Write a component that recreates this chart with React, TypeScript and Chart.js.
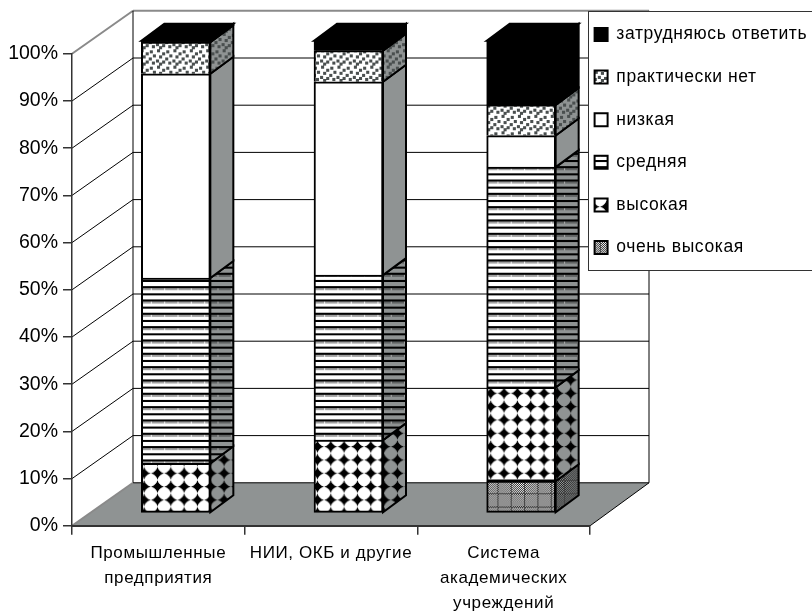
import React, { useEffect, useRef } from "react";
import { Chart, registerables } from "chart.js";

Chart.register(...registerables);

const categories = [["Промышленные", "предприятия"], ["НИИ, ОКБ и другие"], ["Система", "академических", "учреждений"]];
const veryHigh = [0, 0, 6.6];
const high = [10.4, 15.3, 19.9];
const medium = [39.3, 35, 46.7];
const low = [43.3, 41, 6.7];
const almostNone = [6.7, 6.6, 6.5];
const hardToSay = [0.3, 2.1, 13.6];
const yTicks = [0, 10, 20, 30, 40, 50, 60, 70, 80, 90, 100];

const FLOOR = "#8f9393";
const FONT = "'Liberation Sans', Arial, sans-serif";

function tile(w: number, h: number, paint: (c: CanvasRenderingContext2D) => void) {
  const cv = document.createElement("canvas");
  cv.width = w;
  cv.height = h;
  const c = cv.getContext("2d")!;
  paint(c);
  const p = c.createPattern(cv, "repeat")!;
  p.setTransform(new DOMMatrix().scale(13.33 / 13));
  return p;
}

function makePatterns(bg: string, band: string, line: string) {
  const diamonds = tile(13, 13, (c) => {
    c.fillStyle = bg;
    c.fillRect(0, 0, 13, 13);
    c.fillStyle = "#000";
    c.beginPath();
    c.moveTo(0.2, 6.5);
    c.quadraticCurveTo(5.2, 5.2, 6.5, 0.2);
    c.quadraticCurveTo(7.8, 5.2, 12.8, 6.5);
    c.quadraticCurveTo(7.8, 7.8, 6.5, 12.8);
    c.quadraticCurveTo(5.2, 7.8, 0.2, 6.5);
    c.closePath();
    c.fill();
    c.beginPath();
    c.moveTo(2.3, 6.5);
    c.lineTo(6.5, 2.3);
    c.lineTo(10.7, 6.5);
    c.lineTo(6.5, 10.7);
    c.closePath();
    c.fill();
  });
  const stripes = tile(13, 13, (c) => {
    c.fillStyle = bg;
    c.fillRect(0, 0, 13, 13);
    c.fillStyle = band;
    c.fillRect(0, 8, 13, 2);
    c.fillStyle = line;
    c.fillRect(0, 8, 1, 2);
    c.fillStyle = "#000";
    c.fillRect(0, 0, 13, 2);
    c.fillRect(0, 6, 13, 2);
  });
  const confetti = tile(16, 16, (c) => {
    c.fillStyle = bg;
    c.fillRect(0, 0, 16, 16);
    c.fillStyle = "#4a4f4f";
    for (const [x, y] of [[1, 1], [8, 0], [13, 3], [4, 5], [10, 6], [0, 8], [7, 10], [13, 11], [3, 12], [10, 13]]) {
      c.fillRect(x, y, 3, 3);
    }
  });
  const fine = tile(13, 13, (c) => {
    c.fillStyle = bg;
    c.fillRect(0, 0, 13, 13);
    c.fillStyle = "#222";
    for (let y = 0; y < 13; y++) for (let x = 0; x < 13; x++) if ((x + y) % 2 === 0) c.fillRect(x, y, 1, 1);
    c.fillStyle = "#444";
    c.fillRect(0, 0, 1, 13);
    c.fillRect(0, 0, 13, 1);
  });
  return { diamonds, stripes, confetti, fine };
}

const SHIFT = 17.5;
const DX = 23;
const DY = 17;

export default function App() {
  const ref = useRef<HTMLCanvasElement>(null);
  useEffect(() => {
    document.body.style.margin = "0";
    const front = makePatterns("#fff", "#a0a0a0", "#eee");
    const side = makePatterns(FLOOR, "#5f6262", "#aaa");

    const seriesNames = ["очень высокая", "высокая", "средняя", "низкая", "практически нет", "затрудняюсь ответить"];
    const seriesValues = [veryHigh, high, medium, low, almostNone, hardToSay];
    const frontFill: any[] = [front.fine, front.diamonds, front.stripes, "#fff", front.confetti, "#000"];
    const sideFill: any[] = [side.fine, side.diamonds, side.stripes, FLOOR, side.confetti, "#000"];

    const spaced = (obj: any, method: string, ctx: any, spacing: string) => {
      if (obj["__" + method]) return;
      const orig = obj[method];
      obj["__" + method] = true;
      obj[method] = function (...args: any[]) {
        ctx.letterSpacing = spacing;
        orig.apply(this, args);
        ctx.letterSpacing = "0px";
      };
    };

    const scene = {
      id: "scene",
      beforeLayout(chart: any) {
        const l = chart.legend;
        if (!l.__fit) {
          l.__fit = true;
          const fit = l.fit;
          l.fit = function () {
            fit.call(this);
            this.width = 222;
          };
        }
      },
      afterLayout(chart: any) {
        const l = chart.legend;
        l.left = 569.5;
        l.top = 0.65;
        l.right = 900;
        l.bottom = 600;
        spaced(l, "draw", chart.ctx, "0.6px");
        spaced(chart.scales.x, "drawLabels", chart.ctx, "0.6px");
      },
      beforeDraw(chart: any) {
        const c = chart.ctx;
        const y = chart.scales.y;
        const x0 = chart.chartArea.left;
        const x1 = chart.chartArea.right;
        const w = 61;
        const d = 43;
        const y0 = y.getPixelForValue(0);
        const y100 = y.getPixelForValue(100);
        c.save();
        c.fillStyle = "#fff";
        c.fillRect(0, 0, 812, 611);
        c.fillStyle = FLOOR;
        c.beginPath();
        c.moveTo(x0, y0);
        c.lineTo(x0 + w, y0 - d);
        c.lineTo(x1 + w - 2, y0 - d);
        c.lineTo(x1, y0);
        c.closePath();
        c.fill();
        c.lineWidth = 1;
        c.strokeStyle = "#000";
        for (const v of yTicks) {
          const p = y.getPixelForValue(v);
          c.strokeStyle = v === 100 ? "#8a8a8a" : "#000";
          if (v === 100) c.lineWidth = 2;
          c.beginPath();
          if (v !== 0) {
            c.moveTo(x0, p);
            c.lineTo(x0 + w, p - d);
          }
          c.moveTo(x0 + w, p - d);
          c.lineTo(x1 + w - 2, p - d);
          c.stroke();
          c.lineWidth = 1;
        }
        c.strokeStyle = "#000";
        c.beginPath();
        c.moveTo(x0 + w, y100 - d);
        c.lineTo(x0 + w, y0 - d);
        c.moveTo(x1 + w - 2, y100 - d);
        c.lineTo(x1 + w - 2, y0 - d);
        c.moveTo(x1 + w - 2, y0 - d);
        c.lineTo(x1, y0);
        c.stroke();
        c.strokeStyle = "#8a8a8a";
        c.lineWidth = 2;
        c.beginPath();
        c.moveTo(x0, y0);
        c.lineTo(x0 + w, y0 - d);
        c.stroke();
        c.fillStyle = "#fff";
        c.fillRect(588, 11, 224, 260);
        c.strokeStyle = "#333";
        c.lineWidth = 1;
        c.strokeRect(588.5, 11.5, 240, 259);
        c.restore();
      },
      beforeDatasetsDraw(chart: any) {
        chart.ctx.save();
        chart.ctx.translate(SHIFT, 0);
      },
      afterDatasetsDraw(chart: any) {
        const c = chart.ctx;
        c.lineWidth = 2;
        c.strokeStyle = "#000";
        c.lineJoin = "miter";
        const poly = (pts: number[][], fill: any) => {
          c.beginPath();
          pts.forEach(([a, b], i) => (i ? c.lineTo(a, b) : c.moveTo(a, b)));
          c.closePath();
          c.fillStyle = fill;
          c.fill();
          c.stroke();
        };
        categories.forEach((_, i) => {
          let top: any = null;
          let topFill: any = null;
          seriesValues.forEach((vals, s) => {
            if (!vals[i]) return;
            const bar = chart.getDatasetMeta(s).data[i];
            const r = bar.x + bar.width / 2;
            poly(
              [[r, bar.y], [r + DX, bar.y - DY], [r + DX, bar.base - DY], [r, bar.base]],
              sideFill[s]
            );
            top = bar;
            topFill = frontFill[s];
          });
          if (top) {
            const l = top.x - top.width / 2;
            const r = top.x + top.width / 2;
            poly([[l, top.y], [l + DX, top.y - DY], [r + DX, top.y - DY], [r, top.y]], topFill);
          }
        });
        c.restore();
      },
    };

    const chart = new Chart(ref.current!, {
      type: "bar",
      plugins: [scene],
      data: {
        labels: categories as any,
        datasets: seriesNames.map((name, s) => ({
          label: name,
          data: seriesValues[s],
          yAxisID: "yBar",
          backgroundColor: frontFill[s],
          borderColor: "#000",
          borderWidth: { top: 2, left: 2, right: 2, bottom: s === 1 || s === 0 ? 2 : 0 },
          borderSkipped: false,
          barThickness: 69,
          clip: false,
        })) as any,
      },
      options: {
        responsive: false,
        animation: false,
        layout: { padding: { top: 53.8, left: 0, bottom: 0, right: 0 } },
        plugins: {
          tooltip: { enabled: false },
          title: { display: false },
          legend: {
            display: true,
            position: "right",
            align: "start",
            labels: {
              boxWidth: 13,
              boxHeight: 13,
              padding: 25.1,
              color: "#000",
              font: { family: FONT, size: 17.5 },
              generateLabels: () =>
                seriesNames
                  .map((name, s) => ({
                    text: name,
                    fillStyle: frontFill[s],
                    strokeStyle: "#000",
                    lineWidth: 2,
                    datasetIndex: s,
                  }))
                  .reverse(),
            },
          },
        },
        scales: {
          x: {
            stacked: true,
            afterFit: (s: any) => {
              s.height = 611 - 525.8;
            },
            grid: { drawOnChartArea: false, color: "#333", tickLength: 9, lineWidth: 1.5, offset: true },
            border: { color: "#333", width: 2 },
            ticks: {
              color: "#000",
              maxRotation: 0,
              autoSkip: false,
              padding: 6,
              font: { family: FONT, size: 17, lineHeight: 1.47 },
            },
          },
          y: {
            type: "linear",
            min: 0,
            max: 100,
            afterFit: (s: any) => {
              s.width = 72;
            },
            grid: { drawOnChartArea: false, color: "#333", tickLength: 9, lineWidth: 1.5 },
            border: { color: "#333", width: 1.5 },
            ticks: {
              stepSize: 10,
              color: "#000",
              padding: 5,
              callback: (v: any) => v + "%",
              font: { family: FONT, size: 19.5 },
            },
          },
          yBar: {
            display: false,
            stacked: true,
            min: -2.863,
            max: 97.24,
          },
        },
      },
    } as any);
    return () => chart.destroy();
  }, []);
  return <canvas ref={ref} width={812} height={611} style={{ display: "block" }} />;
}
